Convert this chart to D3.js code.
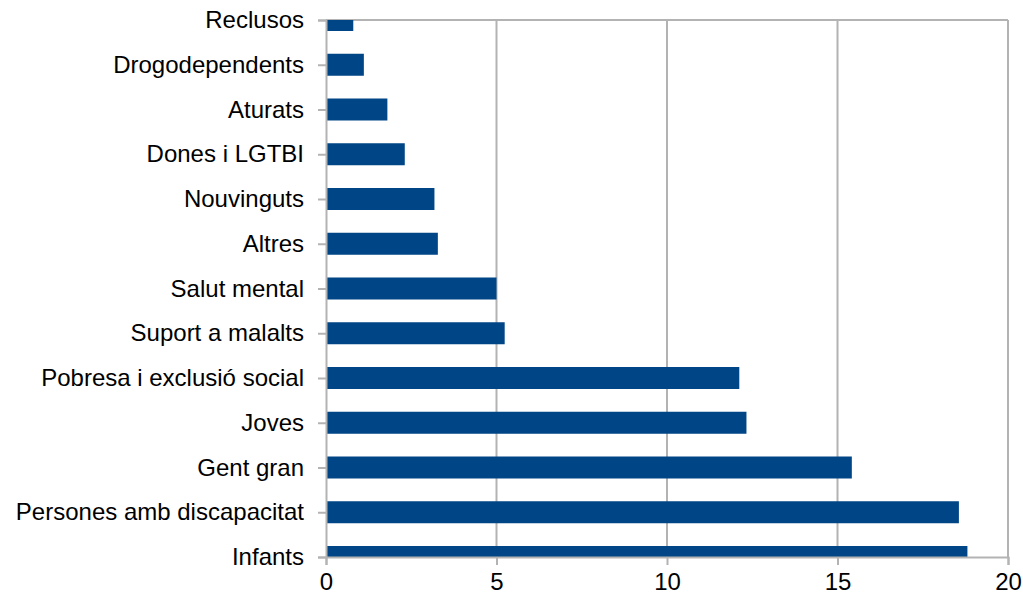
<!DOCTYPE html>
<html><head><meta charset="utf-8">
<script src="https://cdn.jsdelivr.net/npm/d3@7"></script>
<style>body{margin:0;background:#fff;} svg{display:block;}</style>
</head><body>
<svg id="c" width="1023" height="600"></svg>
<script>
const categories = ["Reclusos","Drogodependents","Aturats","Dones i LGTBI","Nouvinguts","Altres","Salut mental","Suport a malalts","Pobresa i exclusió social","Joves","Gent gran","Persones amb discapacitat","Infants"];
const values = [0.8,1.11,1.8,2.31,3.18,3.28,5.0,5.24,12.12,12.33,15.42,18.56,18.81];
const xTicks = [0,5,10,15,20];

const svg = d3.select("#c");
const L = 326, R = 1008, T = 20, B = 557;
const x = d3.scaleLinear().domain([0,20]).range([L,R]);
const y = d3.scalePoint().domain(categories).range([T,B]);
const grid = "#b3b3b3";
const font = "'Liberation Sans', Arial, sans-serif";

svg.append("defs").append("clipPath").attr("id","clip")
  .append("rect").attr("x",L).attr("y",T).attr("width",R-L).attr("height",B-T);

// gridlines
svg.append("g").selectAll("line").data(xTicks.slice(1)).join("line")
  .attr("x1",d=>x(d)).attr("x2",d=>x(d)).attr("y1",T).attr("y2",B)
  .attr("stroke",grid).attr("stroke-width",2);
// top border
svg.append("line").attr("x1",L).attr("x2",R).attr("y1",T).attr("y2",T)
  .attr("stroke",grid).attr("stroke-width",2);

// bars
svg.append("g").attr("clip-path","url(#clip)").selectAll("rect").data(categories).join("rect")
  .attr("x",x(0)).attr("y",d=>y(d)-11).attr("height",22)
  .attr("width",(d,i)=>x(values[i])-x(0))
  .attr("fill","#004586");

// axes
const xa = svg.append("g").attr("transform",`translate(0,${B})`)
  .call(d3.axisBottom(x).tickValues(xTicks).tickSize(8).tickPadding(8));
const ya = svg.append("g").attr("transform",`translate(${L},0)`)
  .call(d3.axisLeft(y).tickSize(8).tickPadding(14));
[xa,ya].forEach(a=>{
  a.select(".domain").attr("stroke",grid).attr("stroke-width",2);
  a.selectAll(".tick line").attr("stroke",grid).attr("stroke-width",2);
  a.selectAll("text").attr("fill","#000").style("font-family",font).style("font-size","24px");
});
</script>
</body></html>
